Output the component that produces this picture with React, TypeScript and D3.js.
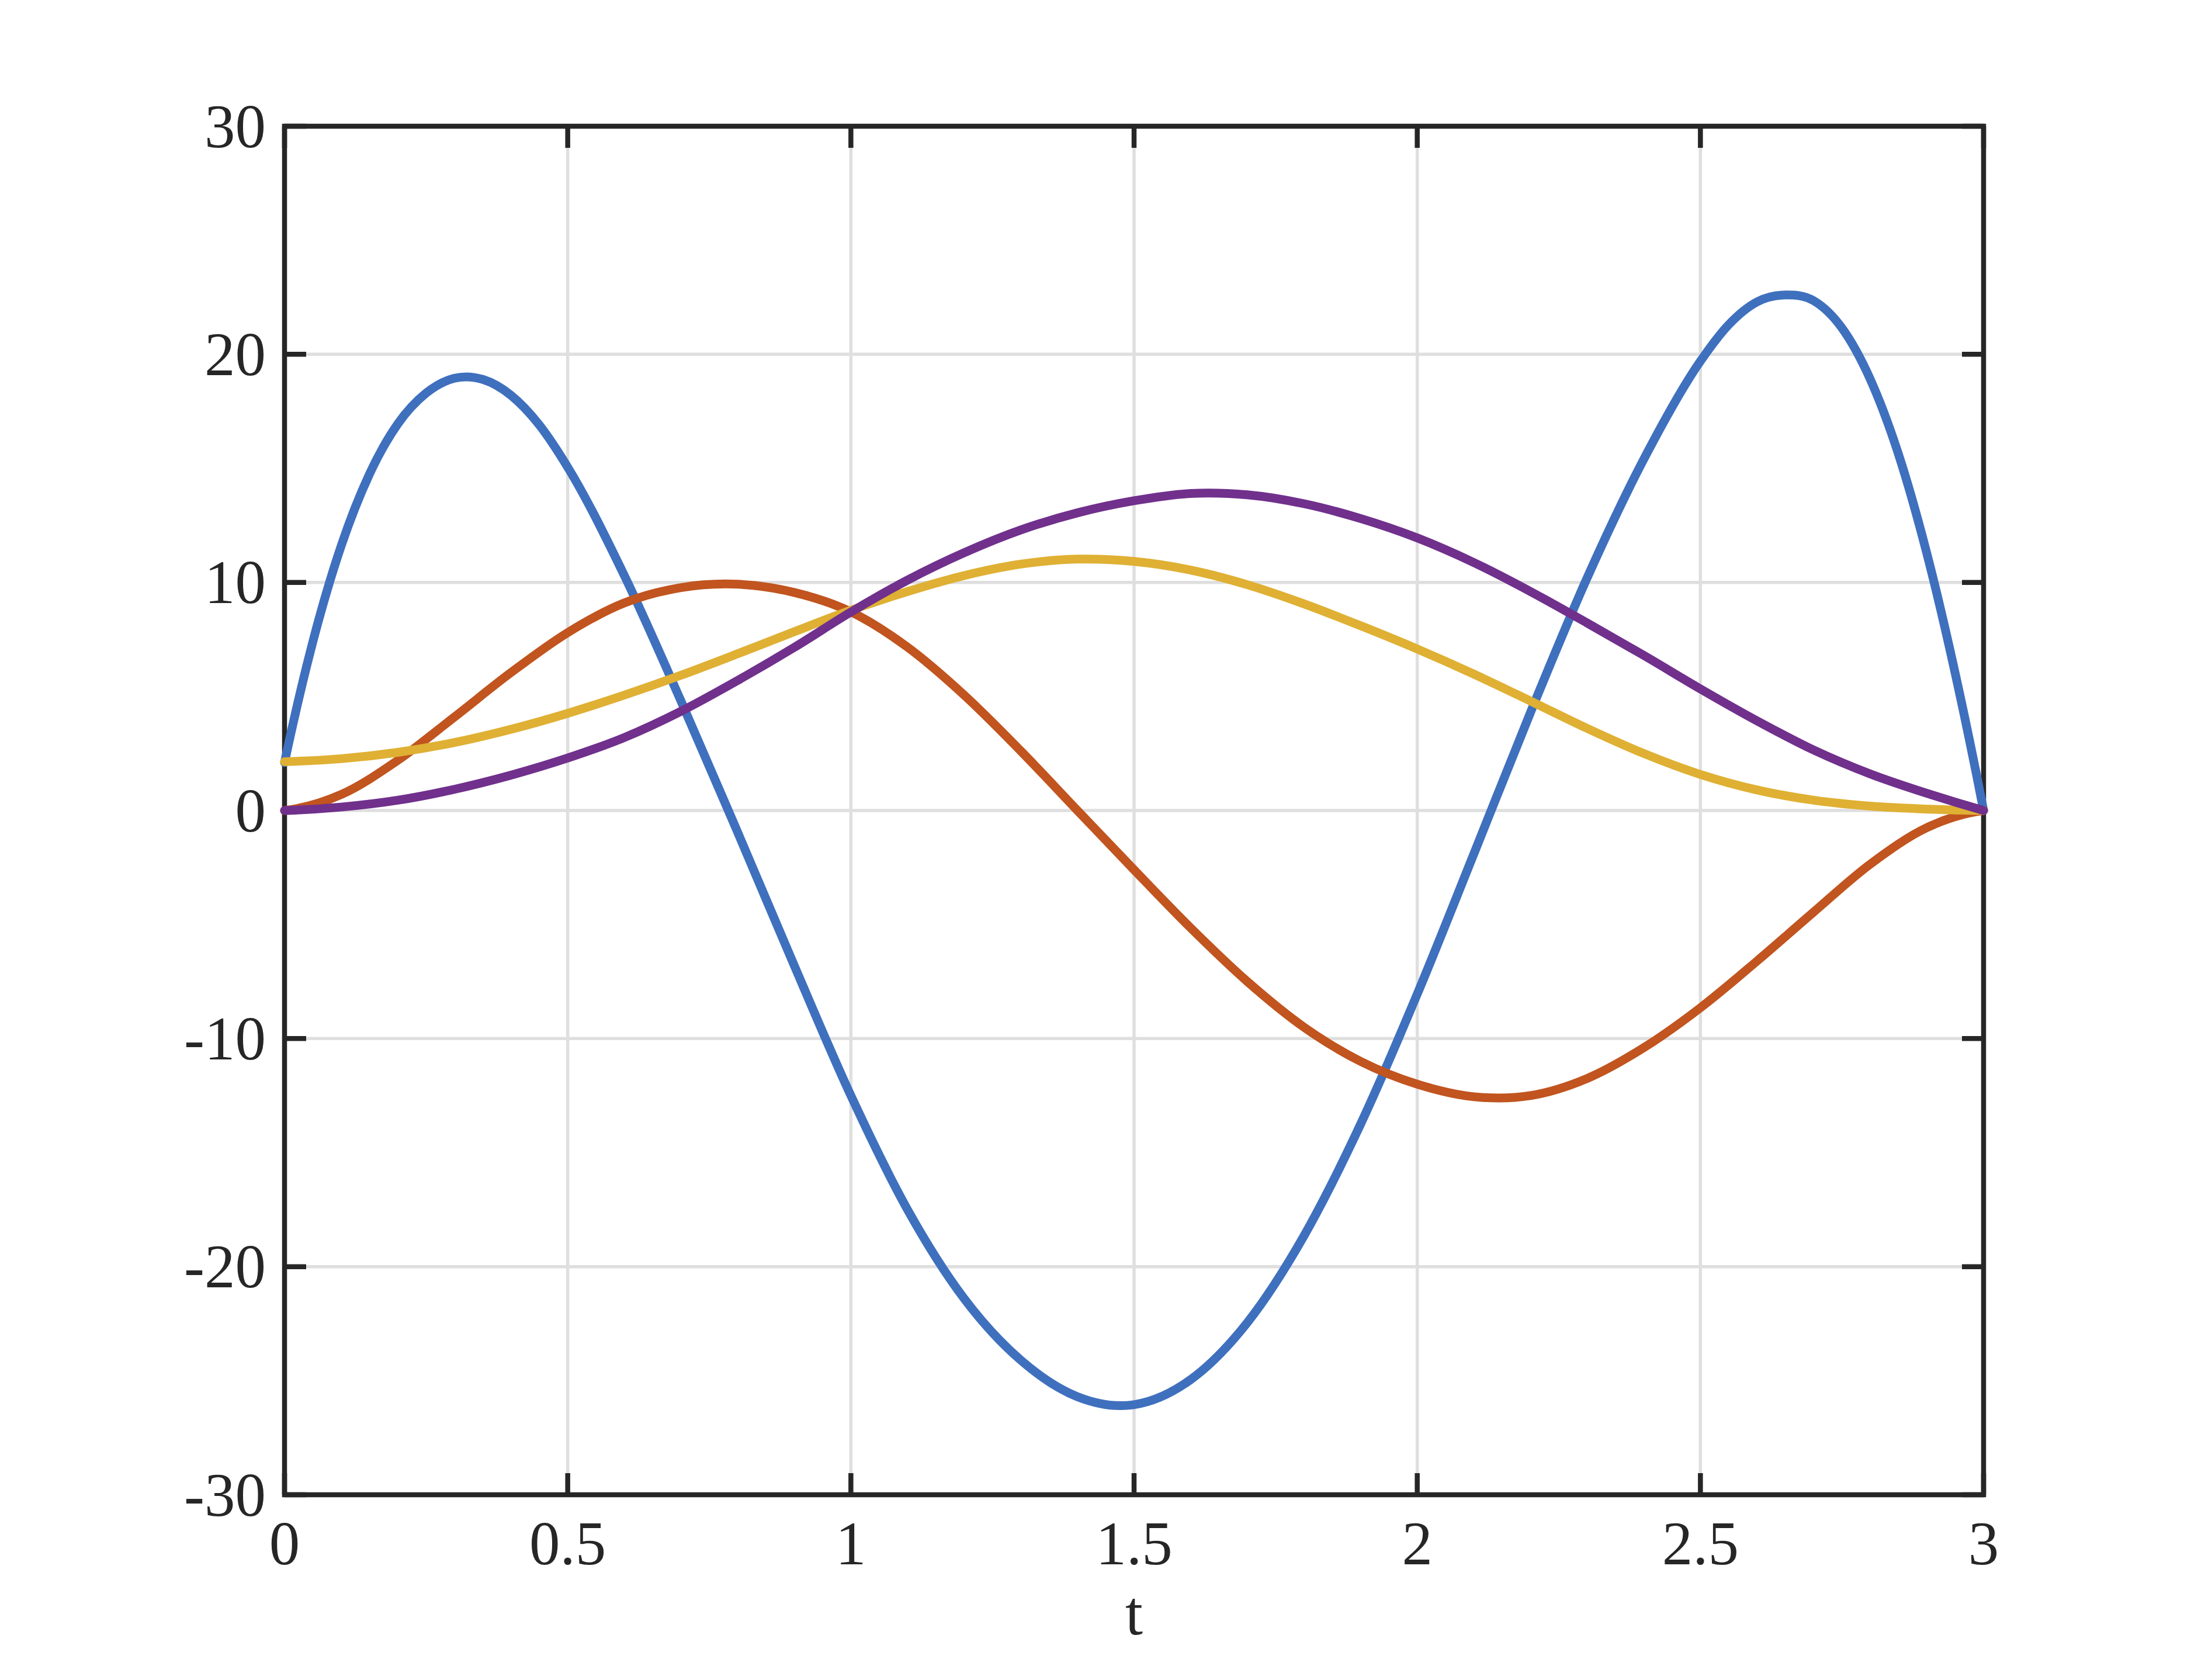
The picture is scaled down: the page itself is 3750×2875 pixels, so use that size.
import React from 'react';
import * as d3 from 'd3';

// samples
const tValues = [0, 0.1, 0.2, 0.3, 0.4, 0.5, 0.6, 0.7, 0.8, 0.9, 1.0, 1.1, 1.2, 1.3, 1.4, 1.5,
  1.6, 1.7, 1.8, 1.9, 2.0, 2.1, 2.2, 2.3, 2.4, 2.5, 2.6, 2.7, 2.8, 2.9, 3.0];

// blue is steep near both ends, so it gets extra samples there
const tBlue = [0, 0.05, 0.1, 0.15, 0.2, 0.25, 0.3, 0.35, 0.4, 0.45, 0.5, 0.6, 0.7, 0.8, 0.9, 1.0,
  1.1, 1.2, 1.3, 1.4, 1.5, 1.6, 1.7, 1.8, 1.9, 2.0, 2.1, 2.2, 2.3, 2.4, 2.5, 2.55, 2.6, 2.65, 2.7,
  2.75, 2.8, 2.85, 2.9, 2.95, 3.0];
const blueValues = [2.1, 7.4, 11.6, 14.75, 16.95, 18.3, 18.95, 18.9, 18.2, 16.9, 15.05, 10.3, 4.8,
  -0.95, -6.8, -12.5, -17.5, -21.4, -24.1, -25.7, -26.05, -24.95, -22.45, -18.65, -13.75, -8.05,
  -1.9, 4.3, 10.2, 15.4, 19.7, 21.3, 22.3, 22.6, 22.35, 21.15, 18.9, 15.6, 11.25, 6.0, 0];

const orangeValues = [0, 0.7, 2.2, 4.1, 6.05, 7.8, 9.1, 9.77, 9.92, 9.56, 8.71, 7.16, 5.06, 2.61,
  0.0, -2.6, -5.15, -7.5, -9.5, -11.0, -12.0, -12.55, -12.5, -11.75, -10.4, -8.65, -6.6, -4.45,
  -2.35, -0.75, 0];

const yellowValues = [2.14, 2.27, 2.55, 2.98, 3.56, 4.26, 5.06, 5.93, 6.87, 7.84, 8.78, 9.6, 10.3,
  10.8, 11.02, 10.92, 10.54, 9.9, 9.06, 8.1, 7.08, 5.98, 4.8, 3.6, 2.5, 1.58, 0.9, 0.45, 0.19,
  0.06, 0];

const purpleValues = [0, 0.15, 0.45, 0.93, 1.55, 2.3, 3.2, 4.35, 5.7, 7.15, 8.7, 10.1, 11.3, 12.3,
  13.05, 13.58, 13.9, 13.84, 13.45, 12.8, 11.95, 10.87, 9.6, 8.22, 6.8, 5.33, 3.93, 2.65, 1.6,
  0.75, 0];

const xTicks = [0, 0.5, 1, 1.5, 2, 2.5, 3];
const yTicks = [-30, -20, -10, 0, 10, 20, 30];

const W = 3750;
const H = 2875;
const left = 487, right = 3395, top = 216, bottom = 2558;
const tickLen = 37;
const font = '"Liberation Serif", "Times New Roman", serif';

// cubic Hermite through the samples, tangents from the uneven spacing in t
function smoothPath(ts: number[], vs: number[], x: d3.ScaleLinear<number, number>, y: d3.ScaleLinear<number, number>) {
  const n = ts.length;
  const h: number[] = [];
  const s: number[] = [];
  for (let i = 0; i < n - 1; i++) {
    h[i] = ts[i + 1] - ts[i];
    s[i] = (vs[i + 1] - vs[i]) / h[i];
  }
  const m: number[] = new Array(n);
  m[0] = ((2 * h[0] + h[1]) * s[0] - h[0] * s[1]) / (h[0] + h[1]);
  m[n - 1] = ((2 * h[n - 2] + h[n - 3]) * s[n - 2] - h[n - 2] * s[n - 3]) / (h[n - 2] + h[n - 3]);
  for (let i = 1; i < n - 1; i++) {
    m[i] = (s[i - 1] * h[i] + s[i] * h[i - 1]) / (h[i - 1] + h[i]);
  }
  const p = d3.path();
  p.moveTo(x(ts[0]), y(vs[0]));
  for (let i = 0; i < n - 1; i++) {
    const d = h[i] / 3;
    p.bezierCurveTo(
      x(ts[i] + d), y(vs[i] + m[i] * d),
      x(ts[i + 1] - d), y(vs[i + 1] - m[i + 1] * d),
      x(ts[i + 1]), y(vs[i + 1])
    );
  }
  return p.toString();
}

const App = () => {
  const x = d3.scaleLinear().domain([0, 3]).range([left, right]);
  const y = d3.scaleLinear().domain([-30, 30]).range([bottom, top]);

  const series = [
    { color: '#3F70BE', t: tBlue, v: blueValues },
    { color: '#C1541F', t: tValues, v: orangeValues },
    { color: '#DFB033', t: tValues, v: yellowValues },
    { color: '#70308C', t: tValues, v: purpleValues },
  ];

  const fmt = (v: number) => String(v); // plain hyphen for negatives, like the original
  const axisColor = '#262626';

  return (
    <>
      <style>{`body{margin:0;background:#fff;}`}</style>
      <svg width={W} height={H} style={{ display: 'block' }}>
        <rect x={0} y={0} width={W} height={H} fill="#fff" />
        {/* grid */}
        <g stroke="#DFDFDF" strokeWidth={5.5}>
          {xTicks.map(t => (
            <line key={'gx' + t} x1={x(t)} x2={x(t)} y1={top} y2={bottom} />
          ))}
          {yTicks.map(v => (
            <line key={'gy' + v} x1={left} x2={right} y1={y(v)} y2={y(v)} />
          ))}
        </g>
        {/* box + inward ticks */}
        <g stroke={axisColor} strokeWidth={8.5} fill="none">
          <rect x={left} y={top} width={right - left} height={bottom - top} />
          {xTicks.map(t => (
            <g key={'tx' + t}>
              <line x1={x(t)} x2={x(t)} y1={bottom} y2={bottom - tickLen} />
              <line x1={x(t)} x2={x(t)} y1={top} y2={top + tickLen} />
            </g>
          ))}
          {yTicks.map(v => (
            <g key={'ty' + v}>
              <line x1={left} x2={left + tickLen} y1={y(v)} y2={y(v)} />
              <line x1={right} x2={right - tickLen} y1={y(v)} y2={y(v)} />
            </g>
          ))}
        </g>
        {/* data */}
        {series.map((s, i) => (
          <path key={i} d={smoothPath(s.t, s.v, x, y)} fill="none" stroke={s.color} strokeWidth={15}
            strokeLinecap="round" strokeLinejoin="round" />
        ))}
        {/* tick labels */}
        <g fontFamily={font} fontSize={105} fill={axisColor}>
          {xTicks.map(t => (
            <text key={'lx' + t} x={x(t)} y={bottom + 119} textAnchor="middle">{fmt(t)}</text>
          ))}
          {yTicks.map(v => (
            <text key={'ly' + v} x={left - 32} y={y(v)} dy="0.34em" textAnchor="end">{fmt(v)}</text>
          ))}
          <text x={(left + right) / 2} y={2797} textAnchor="middle" fontSize={108}>t</text>
        </g>
      </svg>
    </>
  );
};

export default App;
